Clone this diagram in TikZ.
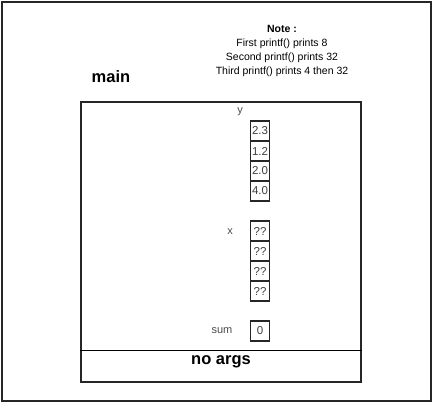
\documentclass[tikz,border=0pt]{standalone}
\usepackage{fontspec}
\setmainfont{Liberation Sans}
\begin{document}
\begin{tikzpicture}[x=1pt,y=-1pt,
  frame/.style={draw=black!85,line width=2pt},
  cell/.style={draw=black!85,line width=1.6pt,minimum width=19pt,minimum height=20pt,inner sep=0pt,font=\fontsize{11.5}{12}\selectfont,text=black!75},
  lbl/.style={font=\fontsize{11}{12}\selectfont,text=black!70,inner sep=0pt},
  note/.style={font=\fontsize{10.5}{14}\selectfont,align=center,inner sep=0pt},
  big/.style={font=\bfseries\fontsize{16.5}{18}\selectfont,inner sep=0pt}]
\useasboundingbox (0,0) rectangle (433,402);
\fill[white] (0,0) rectangle (433,402);
\node[frame,minimum width=429pt,minimum height=399pt,inner sep=0pt] (outer) at (216,201) {};
\node[frame,minimum width=280pt,minimum height=280pt,inner sep=0pt] (frm) at (220.5,241.5) {};
\node[big] (main) at (111,77) {main};
\node[note] (nt) at (282,51) {\textbf{Note :}\\First printf() prints 8\\Second printf() prints 32\\Third printf() prints 4 then 32};
\coordinate (dl) at (frm.west |- 0,350);
\coordinate (dr) at (frm.east |- 0,350);
\draw[black,line width=0.8pt] (dl) -- (dr);
\node[big] (na) at (221,362) {no args};
\node[lbl] (ly) at (240,112) {y};
\node[cell] (y1) at (260,131) {2.3};
\node[cell] (y2) at (260,151) {1.2};
\node[cell] (y3) at (260,171) {2.0};
\node[cell] (y4) at (260,191) {4.0};
\node[lbl] (lx) at (230,232) {x};
\node[cell] (x1) at (260,231) {??};
\node[cell] (x2) at (260,251) {??};
\node[cell] (x3) at (260,271) {??};
\node[cell] (x4) at (260,291) {??};
\node[lbl] (ls) at (222,331) {sum};
\node[cell] (s) at (260,331) {0};
\end{tikzpicture}
\end{document}
